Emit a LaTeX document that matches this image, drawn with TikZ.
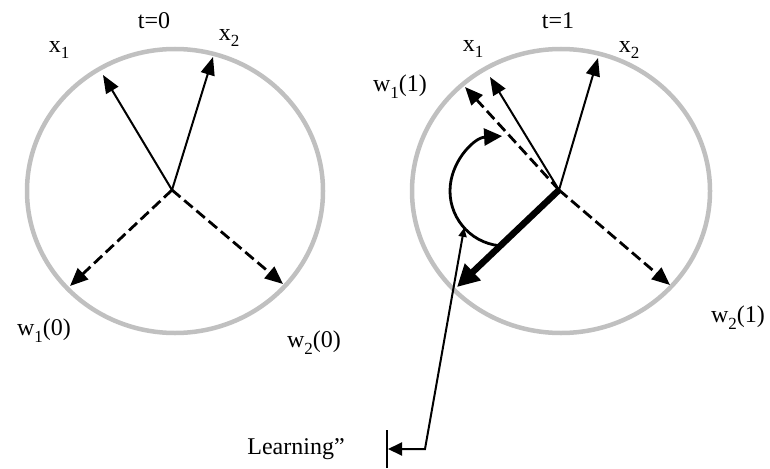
\documentclass[tikz,border=0pt]{standalone}
\usepackage{fontspec}
\setmainfont{Liberation Serif}
\usetikzlibrary{arrows.meta,calc}
\definecolor{ringgray}{HTML}{C0C0C0}
\newcommand{\sbs}[1]{\raisebox{-0.28em}{\fontsize{17}{17}\selectfont #1}}
\begin{document}
\begin{tikzpicture}[x=1pt,y=-1pt,
  ring/.style={draw=ringgray,line width=4.5pt},
  vec/.style={line width=2pt,-{Triangle[length=18pt,width=14pt]}},
  wvec/.style={line width=2.8pt,dash pattern=on 11pt off 5pt,-{Triangle[length=18pt,width=15pt]}},
  thickvec/.style={line width=6.5pt,-{Triangle[length=22pt,width=22pt]}},
  turn/.style={line width=2.8pt,-{Triangle[length=18pt,width=17pt]}},
  lead/.style={line width=2pt,{Triangle[length=9pt,width=8pt]}-{Triangle[length=14pt,width=13pt]}},
  lbl/.style={font=\fontsize{24}{26}\selectfont,inner sep=0pt}]
\useasboundingbox (0,0) rectangle (770,468);
% circles
\draw[ring] (175,191) ellipse[x radius=148pt,y radius=142pt];
\draw[ring] (561,191) ellipse[x radius=149pt,y radius=142pt];
% left picture
\coordinate (O1) at (172,190);
\coordinate (x1a) at (103,75);
\coordinate (x2a) at (213,57);
\coordinate (w1a) at (70,286);
\coordinate (w2a) at (283,284);
\draw[vec] (O1) -- (x1a);
\draw[vec] (O1) -- (x2a);
\draw[wvec] (O1) -- (w1a);
\draw[wvec] (O1) -- (w2a);
% right picture
\coordinate (O2) at (559,190);
\coordinate (x1b) at (490,77);
\coordinate (w1b) at (465,87);
\coordinate (x2b) at (598,58);
\coordinate (w2b) at (670,285);
\coordinate (thk) at (457,287);
\draw[wvec] (O2) -- (w1b);
\draw[vec] (O2) -- (x1b);
\draw[vec] (O2) -- (x2b);
\draw[wvec] (O2) -- (w2b);
\draw[thickvec] (O2) -- (thk);
% turning arc
\coordinate (ac) at (505,191);
\coordinate (arcS) at ($(ac)+(264:55pt)$);
\coordinate (arcL) at ($(ac)+(222:55pt)$);
\draw[turn] (arcS) arc[start angle=264,end angle=93,radius=55pt];
% learning pointer
\coordinate (corner) at (425,449);
\coordinate (barpt) at (388,449);
\coordinate (barT) at (387,430);
\coordinate (barB) at (387,468);
\draw[line width=2pt] (barT) -- (barB);
\draw[lead] (arcL) -- (corner) -- (barpt);
% labels
\node[lbl] (t0) at (154,21) {t=0};
\node[lbl] (t1) at (558,21) {t=1};
\node[lbl] (lx1) at (59,50) {x\sbs{1}};
\node[lbl] (lx2) at (229,38) {x\sbs{2}};
\node[lbl] (rx1) at (473,49) {x\sbs{1}};
\node[lbl] (rx2) at (629,50) {x\sbs{2}};
\node[lbl] (rw1) at (400,87) {w\sbs{1}(1)};
\node[lbl] (rw2) at (738,318) {w\sbs{2}(1)};
\node[lbl] (lw1) at (44,331) {w\sbs{1}(0)};
\node[lbl] (lw2) at (314,343) {w\sbs{2}(0)};
\node[lbl] (learn) at (296,449) {Learning”};
\end{tikzpicture}
\end{document}
